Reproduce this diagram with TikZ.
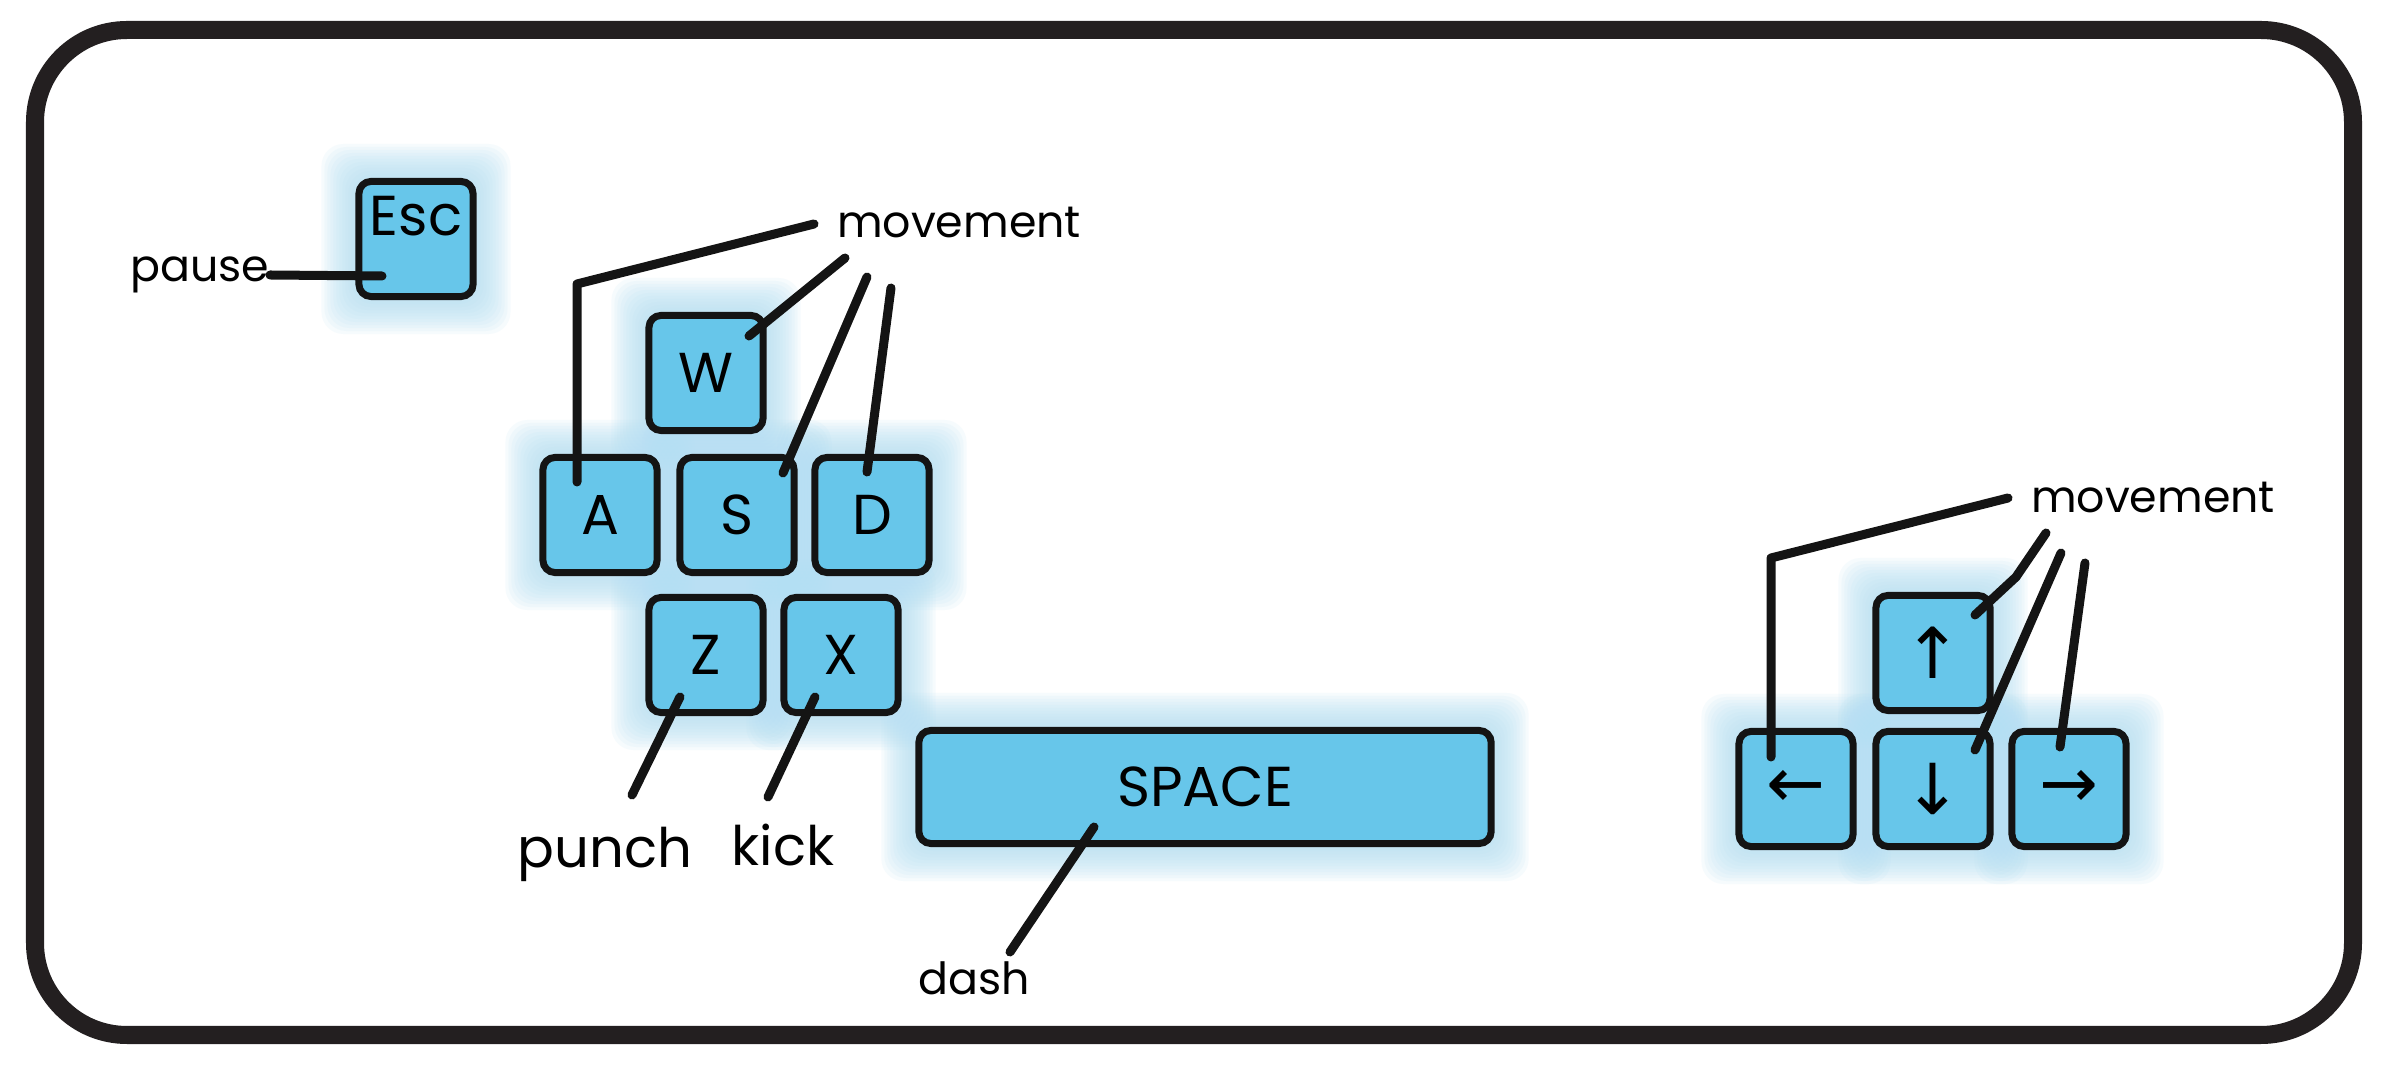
\documentclass[tikz,border=0pt]{standalone}
\usepackage{fontspec}
\setmainfont{Poppins}
\newfontfamily\arrowfont{DejaVu Sans}
\usetikzlibrary{backgrounds}
\definecolor{keyfill}{HTML}{67C6EA}
\definecolor{keyline}{HTML}{141414}
\definecolor{glowc}{HTML}{B3DFF3}
\definecolor{framec}{HTML}{231F20}
\newcommand\keyglow[1]{%
  \foreach \r in {34,31,...,4}{%
    \fill[glowc, opacity=0.11, rounded corners=0.22cm] ([shift={(-\r,-\r)}]#1.north west) rectangle ([shift={(\r,\r)}]#1.south east);}}
\begin{document}
\begin{tikzpicture}[x=0.01cm,y=-0.01cm,
  keybox/.style={draw=keyline, line width=0.07cm, fill=keyfill, rounded corners=0.12cm,
    minimum width=1.14cm, minimum height=1.15cm, inner sep=0pt, font=\fontsize{16}{18}\selectfont},
  arr/.style={font=\arrowfont\fontsize{20}{22}\selectfont},
  lbl/.style={anchor=base, inner sep=0pt, font=\fontsize{12.6}{15}\selectfont},
  biglbl/.style={anchor=base, inner sep=0pt, font=\fontsize{15.5}{18}\selectfont},
  conn/.style={draw=keyline, line width=0.09cm, line cap=round, line join=round}]
\useasboundingbox (0,0) rectangle (2390,1080);
% frame
\draw[framec, line width=0.18cm, rounded corners=0.92cm] (35,30) rectangle (2353,1035);
% keys
\node[keybox] (esc) at (416,239) {\raisebox{0.46cm}{Esc}};
\node[keybox] (W) at (706,373) {W};
\node[keybox] (A) at (600,515) {A};
\node[keybox] (S) at (737,515) {S};
\node[keybox] (D) at (872,515) {D};
\node[keybox] (Z) at (706,655) {Z};
\node[keybox] (X) at (841,655) {X};
\node[keybox, minimum width=5.72cm, minimum height=1.13cm] (space) at (1205,787) {SPACE};
\node[keybox, arr] (up) at (1933,653) {↑};
\node[keybox, arr] (left) at (1796,789) {←};
\node[keybox, arr] (down) at (1933,789) {↓};
\node[keybox, arr] (right) at (2069,789) {→};
% labels
\node[lbl] (pause) at (200,282) {pause};
\node[lbl] (mv1) at (959,238) {movement};
\node[lbl] (mv2) at (2153,513) {movement};
\node[biglbl] (punch) at (605,868) {punch};
\node[biglbl] (kick) at (783,866) {kick};
\node[lbl] (dash) at (974,995) {dash};
% connector ends
\coordinate (pa0) at (270,275); \coordinate (pa1) at (382,276);
\coordinate (mA0) at (814,224); \coordinate (mAk) at (577,284); \coordinate (mA1) at (577,482);
\coordinate (mW0) at (845,258); \coordinate (mW1) at (749,336);
\coordinate (mS0) at (867,277); \coordinate (mS1) at (783,473);
\coordinate (mD0) at (891,288); \coordinate (mD1) at (867,472);
\coordinate (pu0) at (680,697); \coordinate (pu1) at (632,795);
\coordinate (ki0) at (815,697); \coordinate (ki1) at (768,797);
\coordinate (da0) at (1094,827); \coordinate (da1) at (1010,952);
\coordinate (mL0) at (2008,498); \coordinate (mLk) at (1771,558); \coordinate (mL1) at (1771,757);
\coordinate (mU0) at (2046,533); \coordinate (mUk) at (2016,577); \coordinate (mU1) at (1975,615);
\coordinate (mDn0) at (2061,553); \coordinate (mDn1) at (1975,750);
\coordinate (mR0) at (2085,563); \coordinate (mR1) at (2060,747);
% connectors
\draw[conn] (pa0) -- (pa1);
\draw[conn] (mA0) -- (mAk) -- (mA1);
\draw[conn] (mW0) -- (mW1);
\draw[conn] (mS0) -- (mS1);
\draw[conn] (mD0) -- (mD1);
\draw[conn] (pu0) -- (pu1);
\draw[conn] (ki0) -- (ki1);
\draw[conn] (da0) -- (da1);
\draw[conn] (mL0) -- (mLk) -- (mL1);
\draw[conn] (mU0) -- (mUk) -- (mU1);
\draw[conn] (mDn0) -- (mDn1);
\draw[conn] (mR0) -- (mR1);
% background and glows
\begin{scope}[on background layer]
\fill[white] (0,0) rectangle (2390,1080);
\keyglow{esc}\keyglow{W}\keyglow{A}\keyglow{S}\keyglow{D}\keyglow{Z}\keyglow{X}\keyglow{space}
\keyglow{up}\keyglow{left}\keyglow{down}\keyglow{right}
\end{scope}
\end{tikzpicture}
\end{document}
